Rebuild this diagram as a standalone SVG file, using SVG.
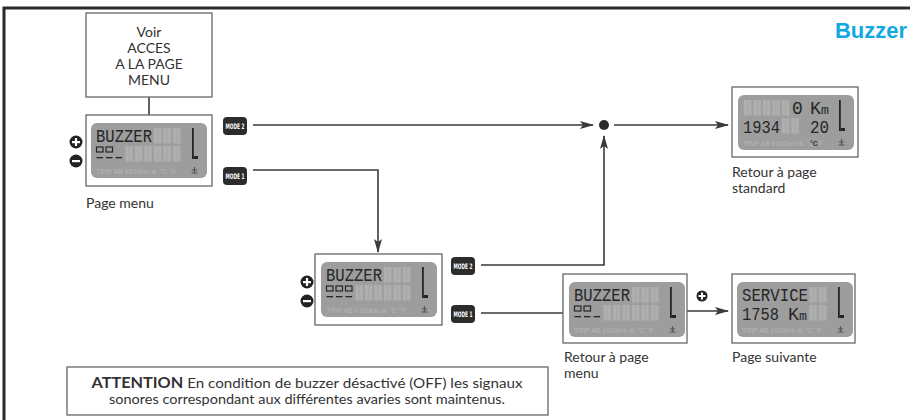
<svg xmlns="http://www.w3.org/2000/svg" width="911" height="420" viewBox="0 0 911 420">
  <style>
    .frame { fill: none; stroke: #2a2a2a; stroke-width: 3; }
    .box { fill: #ffffff; stroke: #666666; stroke-width: 1.3; }
    .lbl { font-family: Lato, "Open Sans", "Liberation Sans", sans-serif; font-size: 14px; fill: #333333; }
    .lbl-c { font-family: Lato, "Open Sans", "Liberation Sans", sans-serif; font-size: 14px; fill: #333333; text-anchor: middle; }
    .title { font-family: "Liberation Sans", Arial, sans-serif; font-weight: bold; font-size: 22px; fill: #12a8e4; text-anchor: end; }
    .wire { fill: none; stroke: #3a3a3a; stroke-width: 1.6; }
    .badge rect { fill: #2c2c2c; }
    .badge text { font-family: "DejaVu Sans", sans-serif; font-weight: bold; font-size: 7.5px; fill: #ffffff; text-anchor: middle; }
    .key circle { fill: #222222; }
    .key rect { fill: #ffffff; }
    .lcd-bg { fill: #9d9d9d; }
    .seg { font-family: "Liberation Mono", "DejaVu Sans Mono", monospace; font-size: 18px; fill: #262626; }
    .faint { font-family: "Liberation Sans", sans-serif; font-size: 7px; fill: #b6b6b6; }
    .dark { fill: #252525; }
    .note { font-family: Lato, "Open Sans", "Liberation Sans", sans-serif; font-size: 14px; fill: #333333; text-anchor: middle; }
  </style>
  <defs>
    <marker id="arrow" viewBox="0 0 14 8" refX="13" refY="4" markerWidth="14" markerHeight="8" markerUnits="userSpaceOnUse" orient="auto">
      <path d="M0,0 L14,4 L0,8 L3,4 Z" fill="#3a3a3a"/>
    </marker>
    <!-- unlit character cells of the LCD -->
    <pattern id="cells" patternUnits="userSpaceOnUse" x="5" y="5" width="9.5" height="18">
      <rect x="0.8" y="0" width="7.6" height="15.5" fill="#afafaf"/>
      <rect x="4.2" y="0" width="0.8" height="15.5" fill="#a4a4a4"/>
    </pattern>
    <!-- common LCD panel: background, bar gauge, unit labels -->
    <g id="lcd">
      <rect class="lcd-bg" x="0" y="0" width="116" height="55" rx="6"/>
      <rect class="dark" x="101" y="5" width="1.8" height="31"/>
      <rect class="dark" x="102.5" y="33" width="4.5" height="3"/>
      <text class="faint" x="5" y="51">TRIP AB l/100km  ⊛ °C °F</text>
      <path d="M103.5,44 v6 M100.5,50 h6 M101,47 h5" stroke="#555555" stroke-width="1.2" fill="none"/>
    </g>
    <!-- row-2 glyphs for the BUZZER pages -->
    <g id="sq">
      <rect x="0.5" y="0" width="6.5" height="5" fill="none" stroke="#252525" stroke-width="1.2"/>
    </g>
    <g id="dash">
      <rect x="0.5" y="0" width="6.5" height="1.3" fill="#252525"/>
    </g>
  </defs>

  <!-- page frame -->
  <path class="frame" d="M4,420 V8 H910"/>
  <text class="title" x="907" y="38">Buzzer</text>

  <!-- connectors -->
  <g id="connectors">
    <line class="wire" x1="149" y1="97" x2="149" y2="115"/>
    <line class="wire" x1="253" y1="125" x2="593" y2="125" marker-end="url(#arrow)"/>
    <circle cx="604" cy="125" r="5" fill="#2a2a2a"/>
    <line class="wire" x1="614" y1="125" x2="728" y2="125" marker-end="url(#arrow)"/>
    <polyline class="wire" points="253,170 378,170 378,252" marker-end="url(#arrow)"/>
    <polyline class="wire" points="481,265 604,265 604,136" marker-end="url(#arrow)"/>
    <line class="wire" x1="481" y1="313" x2="563" y2="313"/>
    <line class="wire" x1="687" y1="311" x2="728" y2="311" marker-end="url(#arrow)"/>
  </g>

  <!-- entry note -->
  <g id="voir">
    <rect class="box" x="86" y="13" width="126" height="84"/>
    <text class="lbl-c" x="149" y="37">Voir</text>
    <text class="lbl-c" x="149" y="53">ACCES</text>
    <text class="lbl-c" x="149" y="69">A LA PAGE</text>
    <text class="lbl-c" x="149" y="85">MENU</text>
  </g>

  <!-- menu page -->
  <g id="page-menu">
    <rect class="box" x="86" y="115" width="126" height="71"/>
    <g transform="translate(91,123)">
      <use href="#lcd"/>
      <text class="seg" x="5" y="19" textLength="56" lengthAdjust="spacingAndGlyphs">BUZZER</text>
      <rect x="62" y="5" width="28.5" height="16" fill="url(#cells)"/>
      <use href="#sq" x="5" y="24"/>
      <use href="#sq" x="14.5" y="24"/>
      <use href="#dash" x="5" y="34"/>
      <use href="#dash" x="14.5" y="34"/>
      <use href="#dash" x="24" y="34"/>
      <rect x="33.5" y="23" width="57" height="16" fill="url(#cells)"/>
    </g>
    <text class="lbl" x="86" y="208">Page menu</text>
  </g>
  <g id="keys-1" class="key">
    <circle cx="76" cy="142" r="6.5"/>
    <rect x="72" y="141" width="8" height="2.2"/>
    <rect x="74.9" y="138" width="2.2" height="8"/>
    <circle cx="76" cy="161" r="6.5"/>
    <rect x="72" y="160" width="8" height="2.2"/>
  </g>
  <g id="mode2-a" class="badge">
    <rect x="223" y="117" width="24" height="18" rx="4"/>
    <text x="235" y="128.8" textLength="19" lengthAdjust="spacingAndGlyphs">MODE 2</text>
  </g>
  <g id="mode1-a" class="badge">
    <rect x="223" y="167" width="24" height="18" rx="4"/>
    <text x="235" y="178.8" textLength="19" lengthAdjust="spacingAndGlyphs">MODE 1</text>
  </g>

  <!-- buzzer setting page -->
  <g id="page-buzzer">
    <rect class="box" x="315" y="254" width="127" height="71"/>
    <g transform="translate(321,262)">
      <use href="#lcd"/>
      <text class="seg" x="5" y="19" textLength="56" lengthAdjust="spacingAndGlyphs">BUZZER</text>
      <rect x="62" y="5" width="28.5" height="16" fill="url(#cells)"/>
      <use href="#sq" x="5" y="24"/>
      <use href="#sq" x="14.5" y="24"/>
      <use href="#sq" x="24" y="24"/>
      <use href="#dash" x="5" y="34"/>
      <use href="#dash" x="14.5" y="34"/>
      <use href="#dash" x="24" y="34"/>
      <rect x="33.5" y="23" width="57" height="16" fill="url(#cells)"/>
    </g>
  </g>
  <g id="keys-2" class="key">
    <circle cx="307" cy="282" r="6.5"/>
    <rect x="303" y="281" width="8" height="2.2"/>
    <rect x="305.9" y="278" width="2.2" height="8"/>
    <circle cx="307" cy="301" r="6.5"/>
    <rect x="303" y="300" width="8" height="2.2"/>
  </g>
  <g id="mode2-b" class="badge">
    <rect x="451" y="257" width="24" height="18" rx="4"/>
    <text x="463" y="268.8" textLength="19" lengthAdjust="spacingAndGlyphs">MODE 2</text>
  </g>
  <g id="mode1-b" class="badge">
    <rect x="451" y="305" width="24" height="18" rx="4"/>
    <text x="463" y="316.8" textLength="19" lengthAdjust="spacingAndGlyphs">MODE 1</text>
  </g>

  <!-- back to menu page -->
  <g id="page-retour-menu">
    <rect class="box" x="563" y="274" width="124" height="69"/>
    <g transform="translate(569,282)">
      <use href="#lcd"/>
      <text class="seg" x="5" y="19" textLength="56" lengthAdjust="spacingAndGlyphs">BUZZER</text>
      <rect x="62" y="5" width="28.5" height="16" fill="url(#cells)"/>
      <use href="#sq" x="5" y="24"/>
      <use href="#sq" x="14.5" y="24"/>
      <use href="#dash" x="5" y="34"/>
      <use href="#dash" x="14.5" y="34"/>
      <use href="#dash" x="24" y="34"/>
      <rect x="33.5" y="23" width="57" height="16" fill="url(#cells)"/>
    </g>
    <text class="lbl" x="564" y="362">Retour à page</text>
    <text class="lbl" x="564" y="378">menu</text>
  </g>
  <g id="key-next" class="key">
    <circle cx="702" cy="296" r="5.5"/>
    <rect x="698.5" y="295" width="7" height="2"/>
    <rect x="701" y="292.5" width="2" height="7"/>
  </g>

  <!-- next page -->
  <g id="page-suivante">
    <rect class="box" x="732" y="274" width="123" height="69"/>
    <g transform="translate(737,282)">
      <use href="#lcd"/>
      <text class="seg" x="5" y="19" textLength="66" lengthAdjust="spacingAndGlyphs">SERVICE</text>
      <rect x="71.5" y="5" width="19" height="16" fill="url(#cells)"/>
      <text class="seg" x="5" y="38" textLength="37" lengthAdjust="spacingAndGlyphs">1758</text>
      <text class="seg" x="51" y="38" textLength="19" lengthAdjust="spacingAndGlyphs">K<tspan font-size="13">m</tspan></text>
      <rect x="71.5" y="23" width="19" height="16" fill="url(#cells)"/>
    </g>
    <text class="lbl" x="732" y="362">Page suivante</text>
  </g>

  <!-- standard page -->
  <g id="page-standard">
    <rect class="box" x="732" y="87" width="126" height="70"/>
    <g transform="translate(738,95)">
      <use href="#lcd"/>
      <rect x="5" y="5" width="47.5" height="16" fill="url(#cells)"/>
      <text class="seg" x="54" y="19">0</text>
      <text class="seg" x="72" y="19" textLength="19" lengthAdjust="spacingAndGlyphs">K<tspan font-size="13">m</tspan></text>
      <text class="seg" x="5" y="38" textLength="37" lengthAdjust="spacingAndGlyphs">1934</text>
      <rect x="43" y="23" width="19" height="16" fill="url(#cells)"/>
      <text class="seg" x="72" y="38" textLength="19" lengthAdjust="spacingAndGlyphs">20</text>
      <text x="72" y="51" font-family="Liberation Sans, sans-serif" font-size="7" font-weight="bold" fill="#333333">°C</text>
    </g>
    <text class="lbl" x="732" y="177">Retour à page</text>
    <text class="lbl" x="732" y="193">standard</text>
  </g>

  <!-- warning note -->
  <g id="attention">
    <rect class="box" x="67" y="367" width="481" height="48"/>
    <text class="note" x="307" y="388" textLength="431" lengthAdjust="spacingAndGlyphs"><tspan font-weight="bold" font-size="15">ATTENTION</tspan> En condition de buzzer désactivé (OFF) les signaux</text>
    <text class="note" x="307" y="404" textLength="396" lengthAdjust="spacingAndGlyphs">sonores correspondant aux différentes avaries sont maintenus.</text>
  </g>
</svg>
